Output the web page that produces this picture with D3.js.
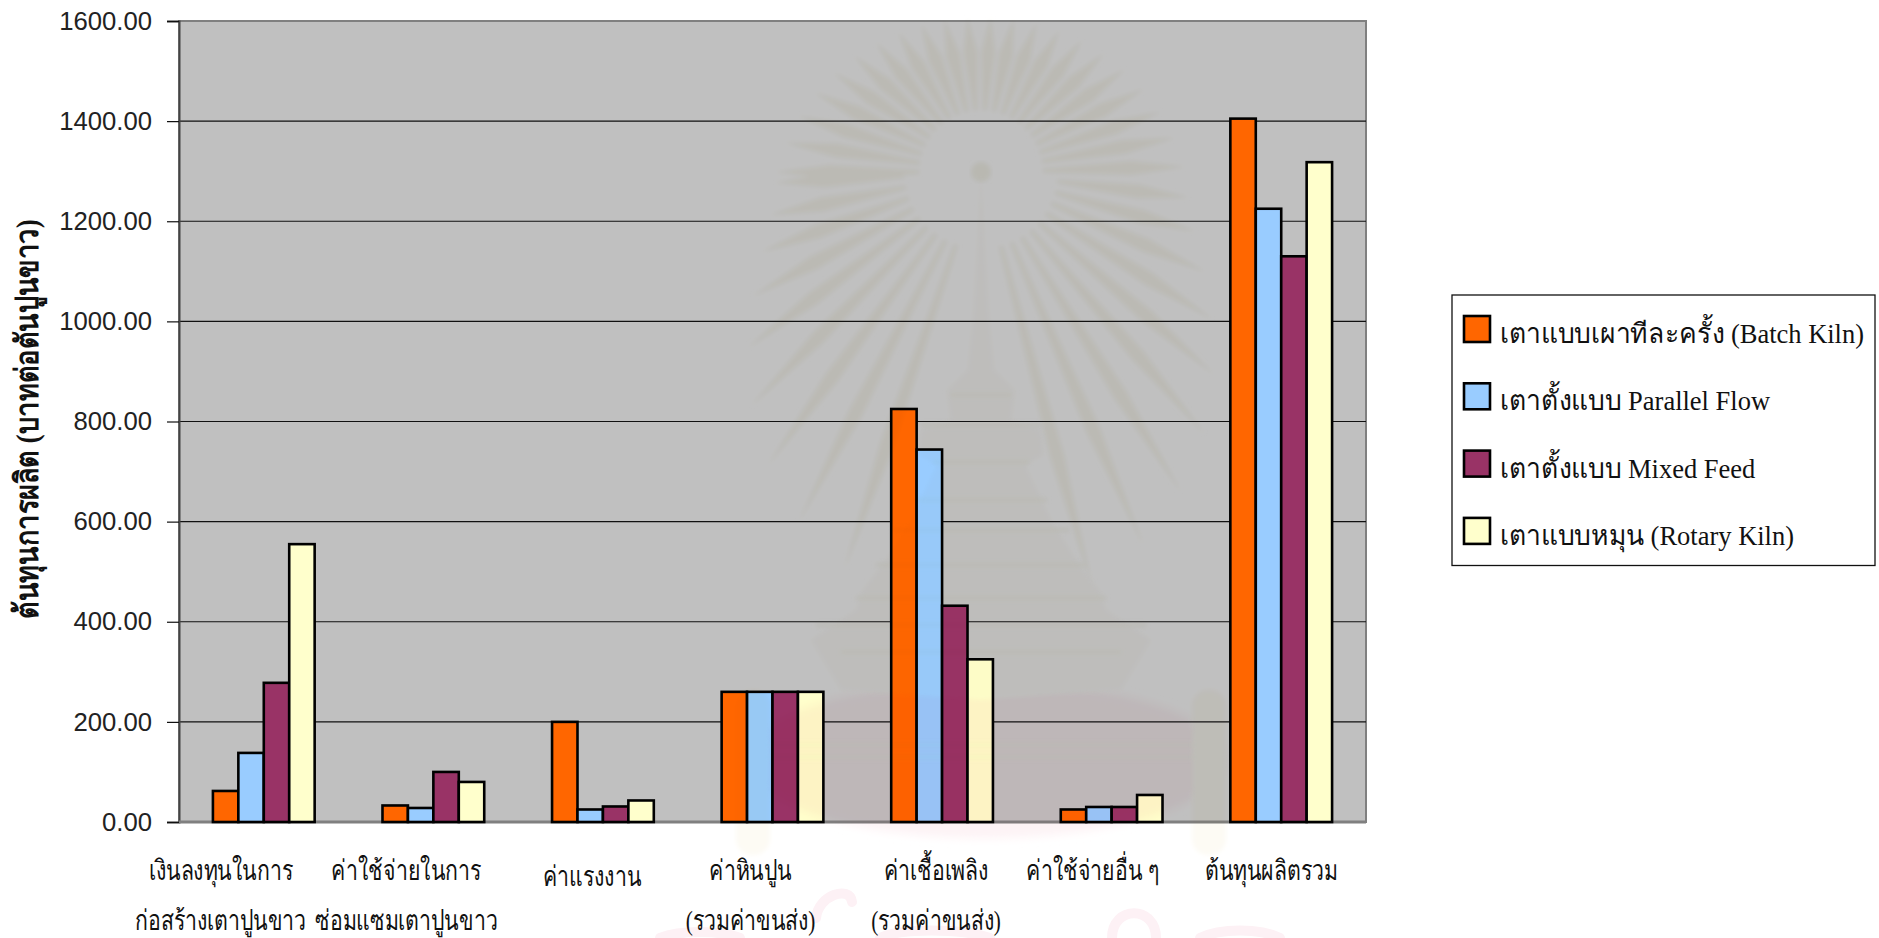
<!DOCTYPE html>
<html lang="th">
<head>
<meta charset="utf-8">
<script src="https://cdn.jsdelivr.net/npm/d3@7"></script>
<style>
  html, body { margin: 0; padding: 0; background: #fff; overflow: hidden; }
  svg { display: block; }
  text { fill: #111; }
</style>
</head>
<body>
<svg id="chart" width="1879" height="938"></svg>
<script>
// Production cost per tonne of quicklime, by kiln type
const categories = [
  ["เงินลงทุนในการ", "ก่อสร้างเตาปูนขาว"],
  ["ค่าใช้จ่ายในการ", "ซ่อมแซมเตาปูนขาว"],
  ["ค่าแรงงาน"],
  ["ค่าหินปูน", "(รวมค่าขนส่ง)"],
  ["ค่าเชื้อเพลิง", "(รวมค่าขนส่ง)"],
  ["ค่าใช้จ่ายอื่น ๆ"],
  ["ต้นทุนผลิตรวม"]
];
const seriesNames = [
  "เตาแบบเผาทีละครั้ง (Batch Kiln)",
  "เตาตั้งแบบ Parallel Flow",
  "เตาตั้งแบบ Mixed Feed",
  "เตาแบบหมุน (Rotary Kiln)"
];
const batchKiln    = [62, 33, 200, 260, 825, 25, 1405];
const parallelFlow = [138, 28, 25, 260, 744, 30, 1225];
const mixedFeed    = [278, 100, 31, 260, 432, 30, 1130];
const rotaryKiln   = [555, 80, 43, 260, 325, 54, 1318];
const seriesValues = [batchKiln, parallelFlow, mixedFeed, rotaryKiln];
const seriesColors = ["#ff6600", "#99ccff", "#993366", "#ffffcc"];
const yTicks = [0, 200, 400, 600, 800, 1000, 1200, 1400, 1600];
const yTitle = "ต้นทุนการผลิต (บาทต่อตันปูนขาว)";

const SERIF = "'Liberation Serif', 'Noto Sans', serif";
const svg = d3.select("#chart");

const plot = { left: 179, right: 1366, top: 21, bottom: 822 };
const y = d3.scaleLinear().domain([0, 1600]).range([plot.bottom, plot.top]);
const x = d3.scaleBand().domain(d3.range(categories.length))
  .range([plot.left, plot.right]).paddingInner(0.4).paddingOuter(0.2);
const xSeries = d3.scaleBand().domain(d3.range(seriesNames.length)).range([0, x.bandwidth()]);

// Plot background
svg.append("rect")
  .attr("x", plot.left).attr("y", plot.top)
  .attr("width", plot.right - plot.left).attr("height", plot.bottom - plot.top)
  .attr("fill", "#c0c0c0").attr("stroke", "#808080").attr("stroke-width", 2);

// Gridlines
svg.append("g").selectAll("line")
  .data(yTicks.filter(t => t > 0 && t < 1600))
  .join("line")
  .attr("x1", plot.left).attr("x2", plot.right)
  .attr("y1", d => y(d)).attr("y2", d => y(d))
  .attr("stroke", "#111").attr("stroke-width", 1.2);

// Value axis
const yAxis = d3.axisLeft(y).tickValues(yTicks).tickFormat(d3.format(".2f")).tickSize(12).tickPadding(15);
const yAxisG = svg.append("g").attr("transform", `translate(${plot.left},0)`).call(yAxis);
yAxisG.select(".domain").attr("stroke", "#444").attr("stroke-width", 2);
yAxisG.selectAll(".tick line").attr("stroke", "#111").attr("stroke-width", 1.2);
yAxisG.selectAll(".tick text")
  .attr("font-family", "'Liberation Sans', Arial, sans-serif")
  .attr("font-size", 25.7).style("fill", "#222");

// Baseline
svg.append("line")
  .attr("x1", plot.left).attr("x2", plot.right)
  .attr("y1", y(0)).attr("y2", y(0))
  .attr("stroke", "#808080").attr("stroke-width", 3);

// Grouped bars
svg.append("g").selectAll("g")
  .data(seriesValues)
  .join("g")
  .attr("fill", (d, i) => seriesColors[i])
  .each(function (vals, s) {
    d3.select(this).selectAll("rect").data(vals).join("rect")
      .attr("x", (d, c) => x(c) + xSeries(s))
      .attr("y", d => y(d))
      .attr("width", xSeries.bandwidth())
      .attr("height", d => y(0) - y(d))
      .attr("stroke", "#000").attr("stroke-width", 2.6);
  });

// Category labels sit in hand-placed text boxes, left of each group's centre.
// The Thai face is narrow, so the text is condensed horizontally.
const labelShift = [-43, -27, -11, -22, -6, -19, -10];
const labelBaseline = [880, 880, 886, 880, 880, 880, 880];
const labels = svg.append("g").attr("font-family", SERIF).attr("font-size", 28).attr("text-anchor", "middle");
categories.forEach((lines, c) => {
  lines.forEach((line, i) => {
    const cx = x(c) + x.bandwidth() / 2 + labelShift[c];
    labels.append("text")
      .attr("transform", `translate(${cx},${labelBaseline[c] + i * 50}) scale(0.76,1)`)
      .text(line);
  });
});

// Axis title
svg.append("text")
  .attr("transform", "translate(38,419) rotate(-90) scale(0.85,1)")
  .attr("text-anchor", "middle")
  .attr("font-family", SERIF).attr("font-size", 32).attr("font-weight", "bold")
  .text(yTitle);

// Legend
const legend = svg.append("g");
legend.append("rect")
  .attr("x", 1452).attr("y", 295).attr("width", 423).attr("height", 270.5)
  .attr("fill", "#fff").attr("stroke", "#111").attr("stroke-width", 1.3);
seriesNames.forEach((name, i) => {
  const top = 316 + i * 67.3;
  legend.append("rect")
    .attr("x", 1464).attr("y", top).attr("width", 26).attr("height", 26)
    .attr("fill", seriesColors[i]).attr("stroke", "#000").attr("stroke-width", 2.6);
  legend.append("text")
    .attr("transform", `translate(1500,${top + 27}) scale(0.96,1)`)
    .attr("font-family", SERIF).attr("font-size", 27.6)
    .text(name);
});

// University crest printed faintly over the whole page
const defs = svg.append("defs");
defs.append("filter").attr("id", "soft").append("feGaussianBlur").attr("stdDeviation", 2);
defs.append("filter").attr("id", "softer").append("feGaussianBlur").attr("stdDeviation", 5);

const crest = svg.append("g").style("mix-blend-mode", "multiply");
const crestX = 981, crestY = 172;

// Pink dome behind the base of the crest
crest.append("ellipse")
  .attr("cx", crestX + 4).attr("cy", 760).attr("rx", 240).attr("ry", 78)
  .attr("fill", "#fdf3f5").attr("filter", "url(#softer)");

// Radiating rays: short above the crest, lengthening towards its foot
const rayReach = deg => {
  const below = Math.max(0, Math.sin(deg * Math.PI / 180));
  const above = Math.max(0, -Math.sin(deg * Math.PI / 180));
  return 205 + 240 * below * below - 50 * above;
};
const rayAngles = d3.range(-180, 180, 8.5).filter(a => Math.abs(a - 90) > 14);
crest.append("g").attr("filter", "url(#soft)").selectAll("path")
  .data(rayAngles)
  .join("path")
  .attr("fill", "#f9f8f0")
  .attr("d", a => {
    const inner = 62 + (Math.sin(a * Math.PI / 180) > 0 ? 15 : 0);
    const outer = rayReach(a);
    const mid = inner + (outer - inner) * 0.62;
    return `M${inner},-2 L${mid},-7 L${outer},0 L${mid},7 L${inner},2 Z`;
  })
  .attr("transform", a => `translate(${crestX},${crestY}) rotate(${a})`);

// Spire and stacked tiers, mirrored about the crest axis
const tierOutline = [[0, 172], [3, 240], [8, 320], [13, 370], [34, 390], [30, 420], [60, 430], [62, 455],
  [44, 465], [70, 520], [95, 560], [118, 590], [125, 610], [170, 640], [140, 690], [0, 700]];
const mirrored = tierOutline.map(([dx, py]) => [crestX + dx, py])
  .concat(tierOutline.slice().reverse().map(([dx, py]) => [crestX - dx, py]));
crest.append("path")
  .attr("d", d3.line()(mirrored) + "Z")
  .attr("fill", "#fdfcf9").attr("filter", "url(#soft)");

// Finial and ornament bands on the tiers
crest.append("circle").attr("cx", crestX).attr("cy", 172).attr("r", 10)
  .attr("fill", "#f6f5ec").attr("filter", "url(#soft)");
const ornamentRows = [395, 425, 462, 500, 530, 565, 598, 625, 652, 745, 757];
const ornamentHalf = [30, 60, 48, 66, 88, 105, 125, 165, 140, 215, 215];
crest.append("g").attr("filter", "url(#soft)").selectAll("line")
  .data(ornamentRows)
  .join("line")
  .attr("x1", (d, i) => crestX - ornamentHalf[i]).attr("x2", (d, i) => crestX + ornamentHalf[i])
  .attr("y1", d => d).attr("y2", d => d)
  .attr("stroke", "#f8f7ee").attr("stroke-width", 3);

// Tasselled columns either side of the base
crest.append("g").attr("filter", "url(#soft)").selectAll("rect")
  .data([crestX - 228, crestX + 228])
  .join("rect")
  .attr("x", d => d - 17).attr("y", 690).attr("width", 34).attr("height", 165).attr("rx", 16)
  .attr("fill", "#fdfbf4");

// Pale stamp strokes running off the foot of the page
const stampStrokes = [
  "M816,918 C818,895 850,885 852,902",
  "M1112,938 C1112,905 1156,905 1156,938",
  "M660,938 C680,930 720,930 740,938",
  "M880,938 C900,928 960,928 990,938",
  "M1200,938 C1220,928 1260,928 1280,938"
];
svg.append("g").style("mix-blend-mode", "multiply").selectAll("path")
  .data(stampStrokes)
  .join("path")
  .attr("d", d => d)
  .attr("fill", "none").attr("stroke", "#fdf1f5").attr("stroke-width", 10)
  .attr("stroke-linecap", "round");
</script>
</body>
</html>
